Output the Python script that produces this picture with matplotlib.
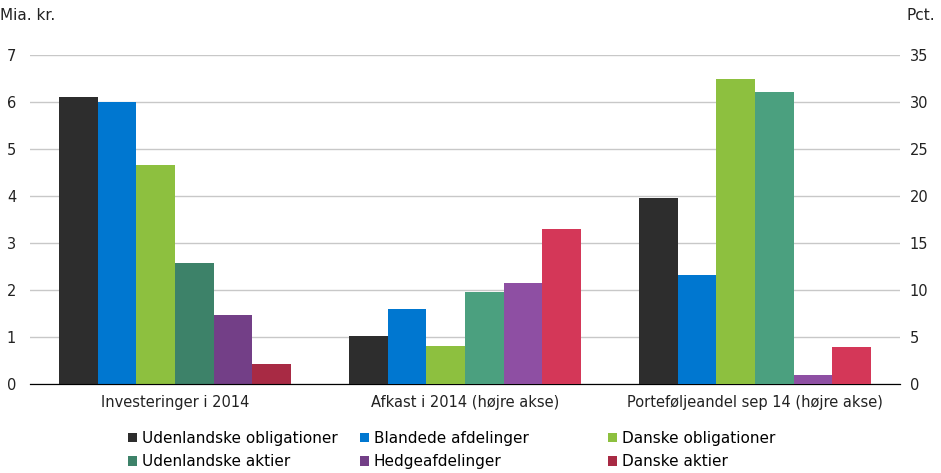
import matplotlib.pyplot as plt
import numpy as np

plt.rcParams['font.family'] = ['DejaVu Sans']

groups = ['Investeringer i 2014', 'Afkast i 2014 (højre akse)', 'Porteføljeandel sep 14 (højre akse)']
series = ['Udenlandske obligationer', 'Blandede afdelinger', 'Danske obligationer',
          'Udenlandske aktier', 'Hedgeafdelinger', 'Danske aktier']

# group 1 in mia. kr. (left axis), group 2 and 3 in pct. (right axis)
invest_2014 = [6.1, 6.0, 4.66, 2.57, 1.47, 0.43]
afkast_2014 = [5.1, 8.0, 4.0, 9.8, 10.7, 16.5]
andel_sep14 = [19.8, 11.6, 32.4, 31.1, 1.0, 3.9]

colors_left = ['#2d2d2d', '#0077d0', '#8dc03f', '#3d8269', '#733f87', '#a82a44']
colors_right = ['#2d2d2d', '#0077d0', '#8dc03f', '#4ba07f', '#8e4fa3', '#d43758']

fig = plt.figure(figsize=(9.41, 4.73), dpi=100)
ax = fig.add_axes([30/941, 89/473, 870/941, 329/473])
ax2 = ax.twinx()

n = len(series)
w = 0.8 / n
x = np.arange(len(groups))
offs = (np.arange(n) - (n - 1) / 2) * w

handles = []
for i in range(n):
    h = ax.bar(x[0] + offs[i], invest_2014[i], w, color=colors_left[i], label=series[i], zorder=3)
    handles.append(h)
    ax2.bar(x[1] + offs[i], afkast_2014[i], w, color=colors_right[i], zorder=3)
    ax2.bar(x[2] + offs[i], andel_sep14[i], w, color=colors_right[i], zorder=3)

ax.set_xlim(-0.5, 2.5)
ax.set_ylim(0, 7)
ax2.set_ylim(0, 35)
ax.set_yticks(range(0, 8))
ax2.set_yticks(range(0, 36, 5))
ax.yaxis.grid(True, color='#c8c8c8', linewidth=1)
ax.set_axisbelow(True)

for a in (ax, ax2):
    for s in ('top', 'left', 'right'):
        a.spines[s].set_visible(False)
    a.spines['bottom'].set_color('black')
    a.tick_params(axis='y', length=0, labelsize=10.5, colors='#222222')
ax.tick_params(axis='y', pad=10)
ax2.tick_params(axis='y', pad=7)
ax.set_xticks(x)
ax.set_xticklabels(groups, fontsize=10.5, color='#222222')
ax.tick_params(axis='x', length=0, pad=8)

fig.text(0.0, 1 - 15/473, 'Mia. kr.', fontsize=11, va='center', ha='left', color='#222222')
fig.text(1 - 6/941, 1 - 15/473, 'Pct.', fontsize=11, va='center', ha='right', color='#222222')

col_x = [128/941, 360/941, 608/941]
for c in range(3):
    hs = [handles[c], handles[c + 3]]
    fig.legend(hs, [series[c], series[c + 3]], loc='upper left',
               bbox_to_anchor=(col_x[c], 1 - 431/473), frameon=False, fontsize=11,
               handlelength=0.6, handleheight=0.6, handletextpad=0.3,
               labelspacing=0.55, borderpad=0, borderaxespad=0)

fig.savefig('out.png', dpi=100)
